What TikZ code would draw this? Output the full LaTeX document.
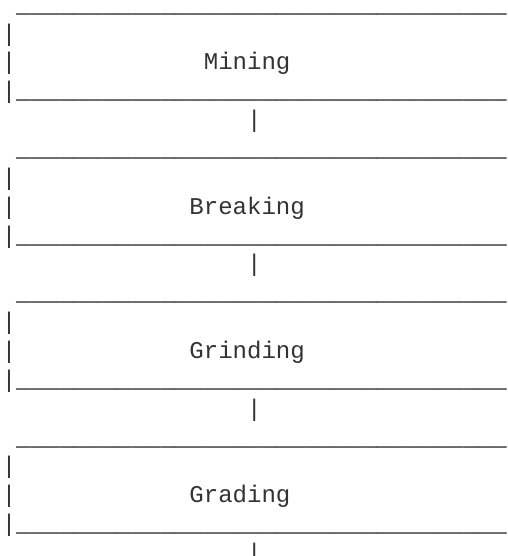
\documentclass[tikz,border=0pt]{standalone}
\usepackage{fontspec}
\setmonofont{Liberation Mono}
\newcommand\ulrow{\_\_\_\_\_\_\_\_\_\_\_\_\_\_\_\_\_\_\_\_\_\_\_\_\_\_\_\_\_\_\_\_\_\_}
\begin{document}
\begin{tikzpicture}[x=1pt,y=1pt,
  asc/.style={anchor=base west, inner sep=0pt, outer sep=0pt,
    font=\fontsize{24.05}{28.85}\selectfont\ttfamily, text=black},
  lbl/.style={asc, text=black!80}]
\useasboundingbox (0,0) rectangle (507,-556);
\def\cw{14.43}\def\lh{28.85}\def\xo{1.8}\def\yo{12.3}
\foreach \lab/\col/\nm [count=\b from 0] in
  {Mining/14/mining, Breaking/13/breaking, Grinding/13/grinding, Grading/13/grading} {
  \pgfmathsetmacro\L{5*\b}
  \node[asc] (\nm-top)  at ({\xo+\cw}, {-(\yo+\L*\lh)}) {\ulrow};
  \node[lbl] (\nm-side) at (\xo, {-(\yo+(\L+1)*\lh)}) {|};
  \node[lbl] (\nm-mid)  at (\xo, {-(\yo+(\L+2)*\lh)}) {|};
  \node[lbl] (\nm)      at ({\xo+\col*\cw}, {-(\yo+(\L+2)*\lh)}) {\lab};
  \node[lbl] (\nm-corner) at (\xo, {-(\yo+(\L+3)*\lh)}) {|};
  \node[asc] (\nm-bot)  at ({\xo+\cw}, {-(\yo+(\L+3)*\lh)}) {\ulrow};
  \node[lbl] (\nm-link) at ({\xo+17*\cw}, {-(\yo+(\L+4)*\lh)}) {|};
}
\end{tikzpicture}
\end{document}
